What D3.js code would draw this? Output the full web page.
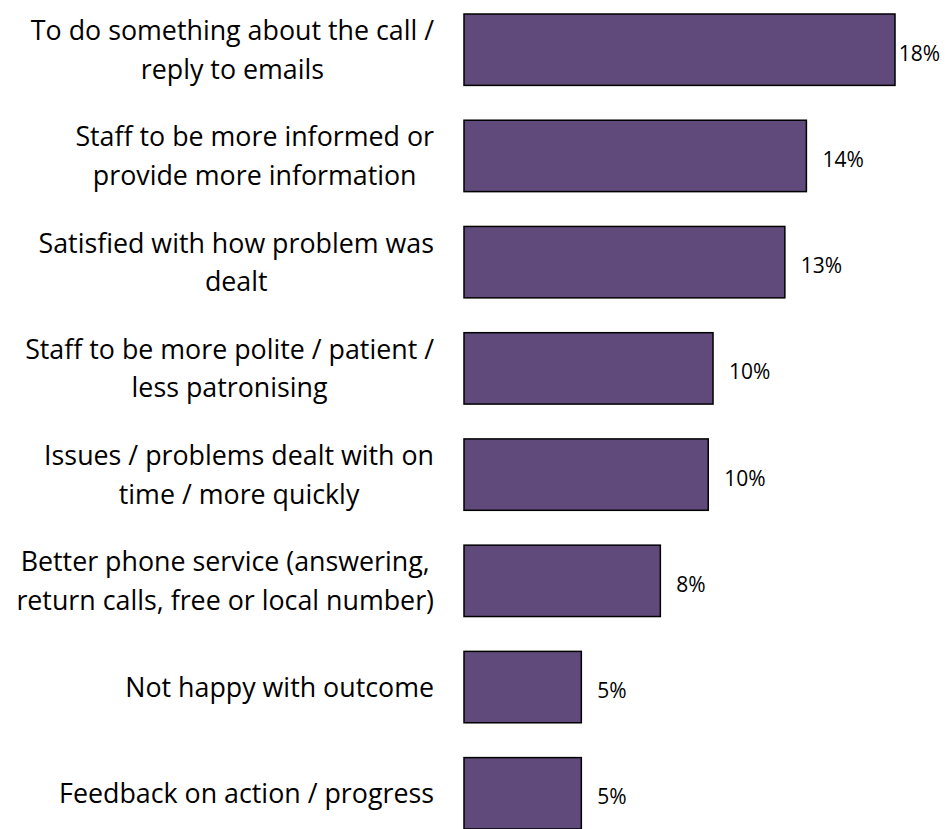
<!DOCTYPE html>
<html>
<head>
<meta charset="utf-8">
<script src="https://cdn.jsdelivr.net/npm/d3@7/dist/d3.min.js"></script>
<style>
  html, body { margin: 0; padding: 0; background: #fff; }
  svg { display: block; }
</style>
</head>
<body>
<svg id="chart" width="946" height="829"></svg>
<script>
// Suggested improvements, share of responses (%)
const categories = [
  ["To do something about the call /", "reply to emails"],
  ["Staff to be more informed or", "provide more information"],
  ["Satisfied with how problem was", "dealt"],
  ["Staff to be more polite / patient /", "less patronising"],
  ["Issues / problems dealt with on", "time / more quickly"],
  ["Better phone service (answering,", "return calls, free or local number)"],
  ["Not happy with outcome"],
  ["Feedback on action / progress"]
];
const values = [18.0, 14.3, 13.4, 10.4, 10.2, 8.2, 4.9, 4.9];

const W = 946, H = 829;
const svg = d3.select("#chart");
const font = "'Open Sans', Lato, 'Noto Sans', sans-serif";

const keys = categories.map((c, i) => i);
const y = d3.scaleBand()
  .domain(keys)
  .range([14, 829])
  .paddingInner(0.328)
  .paddingOuter(0);

const x = d3.scaleLinear()
  .domain([0, d3.max(values)])
  .range([464, 895]);

const fmt = v => d3.format(".0f")(v) + "%";

// Bars
svg.append("g")
  .selectAll("rect")
  .data(values)
  .join("rect")
  .attr("x", x(0))
  .attr("y", (d, i) => y(i))
  .attr("width", d => x(d) - x(0))
  .attr("height", y.bandwidth())
  .attr("fill", "#604A7B")
  .attr("stroke", "#000")
  .attr("stroke-width", 1.5);

// Value labels, pulled inside the right edge when they would overflow
const vl = svg.append("g")
  .attr("font-family", font)
  .attr("font-size", 21)
  .attr("fill", "#000")
  .selectAll("text")
  .data(values)
  .join("text")
  .attr("y", (d, i) => y(i) + y.bandwidth() / 2 + 11)
  .text(d => fmt(d));
vl.each(function(d) {
  const w = this.getComputedTextLength();
  d3.select(this).attr("x", Math.min(x(d) + 16, 940 - w));
});

// Category labels: lines centred on each other, block right-aligned
const lineGap = 38.5;
const labelRight = 434;
const cg = svg.append("g")
  .attr("font-family", font)
  .attr("font-size", 26.8)
  .attr("fill", "#000");

categories.forEach((lines, i) => {
  const cy = y(i) + y.bandwidth() / 2;
  const t = cg.append("text").attr("text-anchor", "middle");
  lines.forEach((line, j) => {
    t.append("tspan")
      .attr("y", cy + (j - (lines.length - 1) / 2) * lineGap)
      .attr("dy", "0.36em")
      .text(line);
  });
  let maxW = 0;
  t.selectAll("tspan").each(function() {
    maxW = Math.max(maxW, this.getComputedTextLength());
  });
  t.selectAll("tspan").attr("x", labelRight - maxW / 2);
});
</script>
</body>
</html>
